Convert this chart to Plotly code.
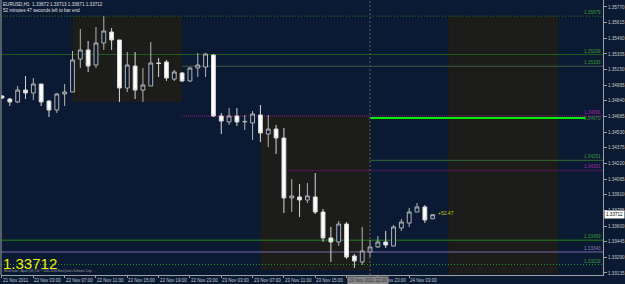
import plotly.graph_objects as go

# ---------------- data ----------------
opens = [1.34888, 1.34858, 1.34829, 1.34947, 1.34918, 1.35007, 1.34838, 1.34749, 1.34908, 1.34928,
         1.35254, 1.35344, 1.35195, 1.35413, 1.35522, 1.35443, 1.34967, 1.35185, 1.34947, 1.34987,
         1.35215, 1.35225, 1.35056, 1.35116, 1.35037, 1.35165, 1.35175, 1.35294, 1.34690, 1.34631,
         1.34690, 1.34631, 1.34621, 1.34700, 1.34512, 1.34561, 1.34472, 1.33878, 1.33888, 1.33858,
         1.33888, 1.33739, 1.33482, 1.33442, 1.33620, 1.33303, 1.33244, 1.33343, 1.33393, 1.33442,
         1.33402, 1.33581, 1.33630, 1.33739, 1.33789, 1.33672]
highs = [1.34898, 1.34868, 1.34987, 1.35086, 1.35066, 1.35007, 1.34848, 1.34918, 1.35007, 1.35334,
         1.35552, 1.35433, 1.35571, 1.35679, 1.35561, 1.35443, 1.35324, 1.35324, 1.35165, 1.35423,
         1.35264, 1.35245, 1.35146, 1.35126, 1.35175, 1.35314, 1.35314, 1.35304, 1.34720, 1.34769,
         1.34769, 1.34700, 1.34739, 1.34799, 1.34700, 1.34601, 1.34571, 1.34066, 1.34016, 1.34026,
         1.34125, 1.33769, 1.33591, 1.33650, 1.33640, 1.33323, 1.33591, 1.33462, 1.33501, 1.33551,
         1.33610, 1.33670, 1.33779, 1.33828, 1.33808, 1.33713]
lows = [1.34858, 1.34789, 1.34819, 1.34858, 1.34848, 1.34789, 1.34680, 1.34720, 1.34789, 1.34928,
        1.35165, 1.35126, 1.35165, 1.35344, 1.35344, 1.34829, 1.34928, 1.34858, 1.34829, 1.34987,
        1.35076, 1.35037, 1.35037, 1.35027, 1.35027, 1.35076, 1.35076, 1.34680, 1.34512, 1.34601,
        1.34591, 1.34551, 1.34452, 1.34432, 1.34383, 1.34314, 1.33729, 1.33739, 1.33690, 1.33828,
        1.33719, 1.33442, 1.33244, 1.33402, 1.33274, 1.33185, 1.33214, 1.33293, 1.33383, 1.33383,
        1.33402, 1.33551, 1.33591, 1.33739, 1.33630, 1.33671]
closes = [1.34868, 1.34829, 1.34947, 1.34918, 1.35007, 1.34829, 1.34749, 1.34908, 1.34928, 1.35245,
          1.35344, 1.35185, 1.35413, 1.35532, 1.35443, 1.34967, 1.35195, 1.34947, 1.34997, 1.35215,
          1.35210, 1.35066, 1.35126, 1.35037, 1.35165, 1.35195, 1.35304, 1.34690, 1.34640, 1.34690,
          1.34631, 1.34636, 1.34710, 1.34522, 1.34561, 1.34472, 1.33878, 1.33898, 1.33858, 1.33898,
          1.33739, 1.33482, 1.33442, 1.33620, 1.33293, 1.33254, 1.33353, 1.33393, 1.33442, 1.33412,
          1.33591, 1.33640, 1.33739, 1.33789, 1.33660, 1.33712]

time_tick_idx = [0, 4, 8, 12, 16, 20, 24, 28, 32, 36, 40, 44, 48, 52]
time_tick_labels = ["21 Nov 2011", "22 Nov 03:00", "22 Nov 07:00", "22 Nov 11:00", "22 Nov 15:00",
                    "22 Nov 19:00", "22 Nov 23:00", "23 Nov 03:00", "23 Nov 07:00", "23 Nov 11:00",
                    "23 Nov 15:00", "23 Nov 19:00", "23 Nov 23:00", "24 Nov 03:00"]

price_tick_labels = ["1.33135", "1.33290", "1.33445", "1.33600", "1.33755", "1.33910", "1.34065",
                     "1.34220", "1.34375", "1.34530", "1.34685", "1.34840", "1.34995", "1.35150",
                     "1.35305", "1.35460", "1.35615", "1.35770"]

level_prices = [1.35679, 1.35299, 1.35183, 1.34691, 1.34670, 1.34251, 1.34151, 1.33459, 1.33343, 1.33219]
level_labels = ["1.35679", "1.35299", "1.35183", "1.34691", "1.34670", "1.34251", "1.34151",
                "1.33459", "1.33343", "1.33219"]

session_start = [9, 33, 57]
session_end = [23, 47, 71]
session_high = [1.35679, 1.34690, 1.35679]
session_low = [1.34829, 1.33165, 1.33125]

symbol_title = "EURUSD,H1  1.33672 1.33713 1.33671 1.33712"
timer_text = "52 minutes 47 seconds left to bar end"
last_price = 1.33712
profit_text = "+52.47"
crosshair_idx = 47
crosshair_label = "23 Nov 2011 22:00"

# ---------------- style ----------------
BG = "#0a1a33"
BOX = "#1c1c1a"
AX = "#a0a0a0"
FONT = "Liberation Sans"
X_RANGE = [-0.127, 76.75]
Y_RANGE = [1.33115, 1.35839]

level_style = [
    dict(color="#267a26", width=1, dash="1px,2px", start=None, end=None, lab="#3a9a3a", anchor="bottom"),
    dict(color="#1c601c", width=1, dash="solid", start=None, end=None, lab="#3a9a3a", anchor="bottom"),
    dict(color="#3c5e42", width=1, dash="solid", start=23, end=None, lab="#3a9a3a", anchor="bottom"),
    dict(color="#701670", width=1.5, dash="1px,1px", start=23, end=None, lab="#b020b0", anchor="bottom"),
    dict(color="#00ee00", width=2, dash="solid", start=47, end=74.5, lab="#3a9a3a", anchor="middle"),
    dict(color="#336e33", width=1, dash="solid", start=47, end=None, lab="#3a9a3a", anchor="bottom"),
    dict(color="#701670", width=1.5, dash="1px,1px", start=36.3, end=None, lab="#b020b0", anchor="bottom"),
    dict(color="#1c601c", width=1.5, dash="solid", start=None, end=None, lab="#3a9a3a", anchor="bottom"),
    dict(color="#7a6aa8", width=1, dash="solid", start=None, end=None, lab="#8a7ac0", anchor="bottom"),
    dict(color="#239023", width=1, dash="1px,2px", start=None, end=None, lab="#3a9a3a", anchor="bottom"),
]

fig = go.Figure()
fig.add_trace(go.Candlestick(
    x=list(range(len(opens))), open=opens, high=highs, low=lows, close=closes,
    increasing=dict(line=dict(color="#b4b4b4", width=1), fillcolor=BG),
    decreasing=dict(line=dict(color="#d8d8d8", width=1), fillcolor="#ffffff"),
    whiskerwidth=0, hoverinfo="skip", showlegend=False))

shapes = []
for s, e, h, l in zip(session_start, session_end, session_high, session_low):
    shapes.append(dict(type="rect", xref="x", yref="y", x0=s, x1=e, y0=l, y1=h,
                       fillcolor=BOX, line=dict(width=0), layer="below"))
for p, st in zip(level_prices, level_style):
    x0 = X_RANGE[0] if st["start"] is None else st["start"]
    x1 = X_RANGE[1] if st["end"] is None else st["end"]
    shapes.append(dict(type="line", xref="x", yref="y", x0=x0, x1=x1, y0=p, y1=p,
                       line=dict(color=st["color"], width=st["width"], dash=st["dash"]), layer="below"))
# crosshair vertical line
shapes.append(dict(type="line", xref="x", yref="paper", x0=crosshair_idx, x1=crosshair_idx, y0=0, y1=1,
                   line=dict(color="#5c5c5c", width=1, dash="2px,2px"), layer="above"))
# left border
shapes.append(dict(type="line", xref="paper", yref="paper", x0=0, x1=0, y0=0, y1=1,
                   line=dict(color=AX, width=1)))

ann = []
for p, lab, st in zip(level_prices, level_labels, level_style):
    ann.append(dict(xref="paper", yref="y", x=1, y=p, text=lab, showarrow=False,
                    xanchor="right", yanchor=st["anchor"], xshift=-1, borderpad=0,
                    font=dict(family=FONT, size=4.6, color=st["lab"])))
for i, lab in zip(time_tick_idx, time_tick_labels):
    ann.append(dict(xref="x", yref="paper", x=i, y=0, text=lab, showarrow=False,
                    xanchor="left", yanchor="top", yshift=-2, borderpad=0,
                    font=dict(family=FONT, size=4.5, color="#c8c8c8")))
ann.append(dict(xref="x", yref="paper", x=crosshair_idx, y=0, text=crosshair_label, showarrow=False,
                xanchor="center", yanchor="top", xshift=-2, yshift=-1, borderpad=1, bgcolor="#8a8a8a",
                font=dict(family=FONT, size=4.5, color="#303030")))
ann.append(dict(xref="paper", yref="paper", x=0, y=1, text=symbol_title, showarrow=False,
                xanchor="left", yanchor="top", xshift=1, yshift=-1, borderpad=0,
                font=dict(family=FONT, size=4.6, color="#e0e0e0")))
ann.append(dict(xref="paper", yref="paper", x=0, y=1, text=timer_text, showarrow=False,
                xanchor="left", yanchor="top", xshift=1, yshift=-6.5, borderpad=0,
                font=dict(family=FONT, size=4.6, color="#e0e0e0")))
ann.append(dict(xref="paper", yref="paper", x=0, y=0, text=f"{last_price:.5f}", showarrow=False,
                xanchor="left", yanchor="bottom", xshift=1, yshift=2, borderpad=0,
                font=dict(family=FONT, size=15, color="#f0f000")))
ann.append(dict(xref="paper", yref="paper", x=0, y=0,
                text="MetaTrader - Alpari (UK) Ltd. © 2001-2009 MetaQuotes Software Corp.",
                showarrow=False, xanchor="left", yanchor="bottom", xshift=2, yshift=1, borderpad=0,
                font=dict(family=FONT, size=2.8, color="#a0a0a0")))
ann.append(dict(xref="x", yref="y", x=55.6, y=1.33729, text=profit_text, showarrow=False,
                xanchor="left", yanchor="middle", borderpad=0,
                font=dict(family=FONT, size=5, color="#c8c800")))
ann.append(dict(xref="paper", yref="y", x=1, y=last_price, text=f"{last_price:.5f}", showarrow=False,
                xanchor="left", yanchor="middle", xshift=1, borderpad=1, bgcolor="#ffffff",
                font=dict(family=FONT, size=4.6, color="#000000")))

fig.update_layout(
    width=625, height=284, margin=dict(l=1, r=19, t=0, b=9, pad=0),
    paper_bgcolor=BG, plot_bgcolor=BG, shapes=shapes, annotations=ann,
    xaxis=dict(range=X_RANGE, showgrid=False, zeroline=False, showline=True, linecolor=AX, linewidth=1,
               ticks="outside", ticklen=2, tickcolor=AX, tickvals=time_tick_idx,
               ticktext=[""] * len(time_tick_idx), rangeslider=dict(visible=False), fixedrange=True),
    yaxis=dict(range=Y_RANGE, side="right", showgrid=False, zeroline=False, showline=True, linecolor=AX,
               linewidth=1, ticks="outside", ticklen=3, tickcolor=AX,
               tickvals=[float(v) for v in price_tick_labels], ticktext=price_tick_labels,
               tickfont=dict(family=FONT, size=4.6, color="#c8c8c8"), fixedrange=True),
)

fig.write_html("out.html")
